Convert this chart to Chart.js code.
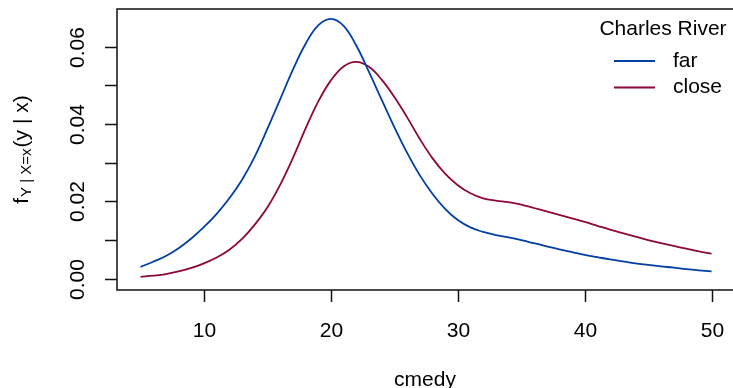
<!DOCTYPE html>
<html><head><meta charset="utf-8">
<script src="https://cdn.jsdelivr.net/npm/chart.js@4/dist/chart.umd.min.js"></script>
<style>html,body{margin:0;padding:0;background:#fff;overflow:hidden}</style>
</head><body>
<canvas id="c" width="733" height="388"></canvas>
<script>
// ---- data ----
const cmedy = [5,6,7,8,9,10,11,12,13,14,15,16,17,18,19,20,21,22,23,24,25,26,27,28,29,30,31,32,33,34,35,36,37,38,39,40,41,42,43,44,45,46,47,48,49,50];
const farDensity = [0.0031,0.0044,0.0059,0.0079,0.0104,0.0134,0.0168,0.0208,0.0256,0.0316,0.0388,0.0464,0.0540,0.0607,0.0655,0.0672,0.0654,0.0603,0.0535,0.0463,0.0392,0.0326,0.0268,0.0220,0.0181,0.0152,0.0133,0.0121,0.0113,0.0107,0.0100,0.0092,0.0084,0.0076,0.0069,0.0062,0.0056,0.0050,0.0045,0.0040,0.0036,0.0032,0.0029,0.0025,0.0022,0.0019];
const closeDensity = [0.0005,0.0008,0.0012,0.0019,0.0028,0.0040,0.0055,0.0075,0.0103,0.0140,0.0185,0.0243,0.0312,0.0388,0.0458,0.0513,0.0549,0.0561,0.0548,0.0515,0.0470,0.0418,0.0362,0.0312,0.0272,0.0242,0.0221,0.0208,0.0202,0.0198,0.0192,0.0183,0.0174,0.0165,0.0156,0.0147,0.0137,0.0127,0.0118,0.0109,0.0100,0.0092,0.0085,0.0078,0.0071,0.0065];
const xTicks = [10,20,30,40,50];
const xTickLabels = ['10','20','30','40','50'];
const yTicks = [0,0.01,0.02,0.03,0.04,0.05,0.06];
const yTickLabels = ['0.00','','0.02','','0.04','','0.06'];
const seriesNames = ['far','close'];
const legendTitle = 'Charles River';
const xTitle = 'cmedy';

const BLUE = '#023FA5', RED = '#8E063B';
const FONT = '"Liberation Sans", Arial, Helvetica, sans-serif';

function pts(ys){ return cmedy.map((x,i)=>({x:x,y:ys[i]})); }

const rAxes = {
  id:'rAxes',
  afterDraw(chart){
    const ctx = chart.ctx, a = chart.chartArea;
    const xs = chart.scales.x, ys = chart.scales.y;
    ctx.save();
    ctx.strokeStyle = '#111'; ctx.lineWidth = 1.5;
    // box
    ctx.beginPath();
    ctx.moveTo(a.right+2, a.top); ctx.lineTo(a.left, a.top); ctx.lineTo(a.left, a.bottom); ctx.lineTo(a.right+2, a.bottom);
    ctx.stroke();
    // x ticks
    ctx.fillStyle = '#000';
    ctx.font = '21px ' + FONT;
    ctx.textAlign = 'center'; ctx.textBaseline = 'alphabetic';
    xTicks.forEach((v,i)=>{
      const px = Math.round(xs.getPixelForValue(v)) + 0.5;
      ctx.beginPath(); ctx.moveTo(px, a.bottom); ctx.lineTo(px, a.bottom+12); ctx.stroke();
      ctx.fillText(xTickLabels[i], px, 337);
    });
    // y ticks
    yTicks.forEach((v,i)=>{
      const py = Math.round(ys.getPixelForValue(v)) + 0.5;
      ctx.beginPath(); ctx.moveTo(a.left, py); ctx.lineTo(a.left-12, py); ctx.stroke();
      if (yTickLabels[i]) {
        ctx.save(); ctx.translate(78, py); ctx.rotate(-Math.PI/2);
        ctx.textAlign='center'; ctx.textBaseline='middle';
        ctx.fillText(yTickLabels[i], 0, 0);
        ctx.restore();
      }
    });
    // x title
    ctx.textAlign='center'; ctx.textBaseline='alphabetic';
    ctx.fillText(xTitle, (a.left+a.right)/2, 386);
    // y title f_{Y | X=x}(y | x)
    ctx.save(); ctx.translate(22, (a.top+a.bottom)/2); ctx.rotate(-Math.PI/2);
    ctx.textBaseline='middle'; ctx.textAlign='left';
    const big = '21px ' + FONT, small = '15px ' + FONT;
    ctx.font = big; const w1 = ctx.measureText('f').width;
    ctx.font = small; const w2 = ctx.measureText('Y | X=x').width;
    ctx.font = big; const w3 = ctx.measureText('(y | x)').width;
    let sx = -(w1+w2+w3+2)/2;
    ctx.font = big; ctx.fillText('f', sx, 0); sx += w1 + 1;
    ctx.font = small; ctx.fillText('Y | X=x', sx, 5); sx += w2 + 1;
    ctx.font = big; ctx.fillText('(y | x)', sx, 0);
    ctx.restore();
    // legend
    ctx.font = '21px ' + FONT;
    ctx.textAlign='center'; ctx.textBaseline='middle';
    ctx.fillText(legendTitle, 663, 29);
    const cols = [BLUE, RED], rows = [61, 87.5];
    seriesNames.forEach((n,i)=>{
      ctx.strokeStyle = cols[i]; ctx.lineWidth = 2;
      ctx.beginPath(); ctx.moveTo(614, rows[i]); ctx.lineTo(655, rows[i]); ctx.stroke();
      ctx.textAlign='left'; ctx.fillStyle='#000';
      ctx.fillText(n, 673, rows[i]);
    });
    ctx.restore();
  }
};

new Chart(document.getElementById('c'), {
  type:'line',
  data:{ datasets:[
    {label:seriesNames[0], data:pts(farDensity), borderColor:BLUE, borderWidth:1.8, pointRadius:0, tension:0.4, fill:false},
    {label:seriesNames[1], data:pts(closeDensity), borderColor:RED, borderWidth:1.8, pointRadius:0, tension:0.4, fill:false}
  ]},
  options:{
    responsive:false, animation:false, devicePixelRatio:1,
    layout:{padding:{left:117, top:9, right:0, bottom:98}},
    plugins:{legend:{display:false}, tooltip:{enabled:false}},
    scales:{
      x:{type:'linear', min:3.144, max:51.69, display:false},
      y:{type:'linear', min:-0.0029, max:0.06975, display:false}
    }
  },
  plugins:[rAxes]
});
</script>
</body></html>
